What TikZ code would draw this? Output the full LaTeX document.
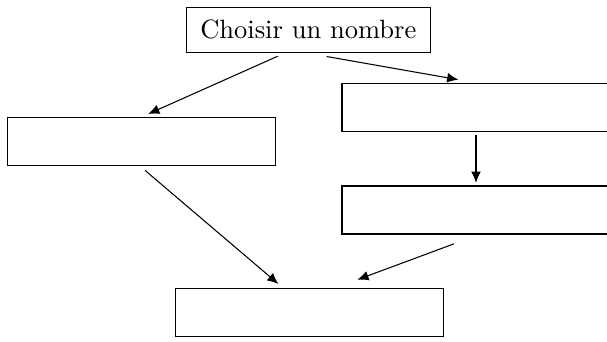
\documentclass[tikz,border=0pt]{standalone}
\usepackage{tikz}
\usetikzlibrary{calc,arrows.meta}
\def\px{0.01326cm}

\begin{document}
\begin{tikzpicture}[x=\px, y=-\px,
	boite/.style={draw, rectangle, minimum width={268*\px}, minimum height={48*\px}, inner sep=0pt},
	fleche/.style={-{Latex[length=4.2pt,width=3.7pt]}}]
			%%%%% START %%%%%
			
			\useasboundingbox (0, 0) rectangle (607, 341);
			
			\node[draw, rectangle, minimum width={244.5*\px}, minimum height={45*\px}, inner sep=0pt] (choix) at (308.3, 29.8) {Choisir un nombre};
			
			\node[boite] (gauche) at (141.7, 141.5) {};
			\node[boite] (droiteA) at (476, 107.5) {};
			\node[boite] (droiteB) at (476, 210) {};
			\node[boite] (bas) at (309.2, 312.5) {};
			
			\draw[fleche] ($(choix.south)+(-30.6, 3.4)$) -- ($(gauche.north)+(6.5, -3)$);
			\draw[fleche] ($(choix.south)+(18.4, 3.7)$) -- ($(droiteA.north)+(-17.7, -3.3)$);
			\draw[fleche] ($(gauche.south)+(3.3, 4.3)$) -- ($(bas.north)+(-30.8, -4)$);
			\draw[fleche] ($(droiteA.south)+(0, 2.6)$) -- ($(droiteB.north)+(0, -2.7)$);
			\draw[fleche] ($(droiteB.south)+(-22, 9.3)$) -- ($(bas.north)+(48.2, -8.3)$);
			
			%%%%% END %%%%%
\end{tikzpicture}
\end{document}
